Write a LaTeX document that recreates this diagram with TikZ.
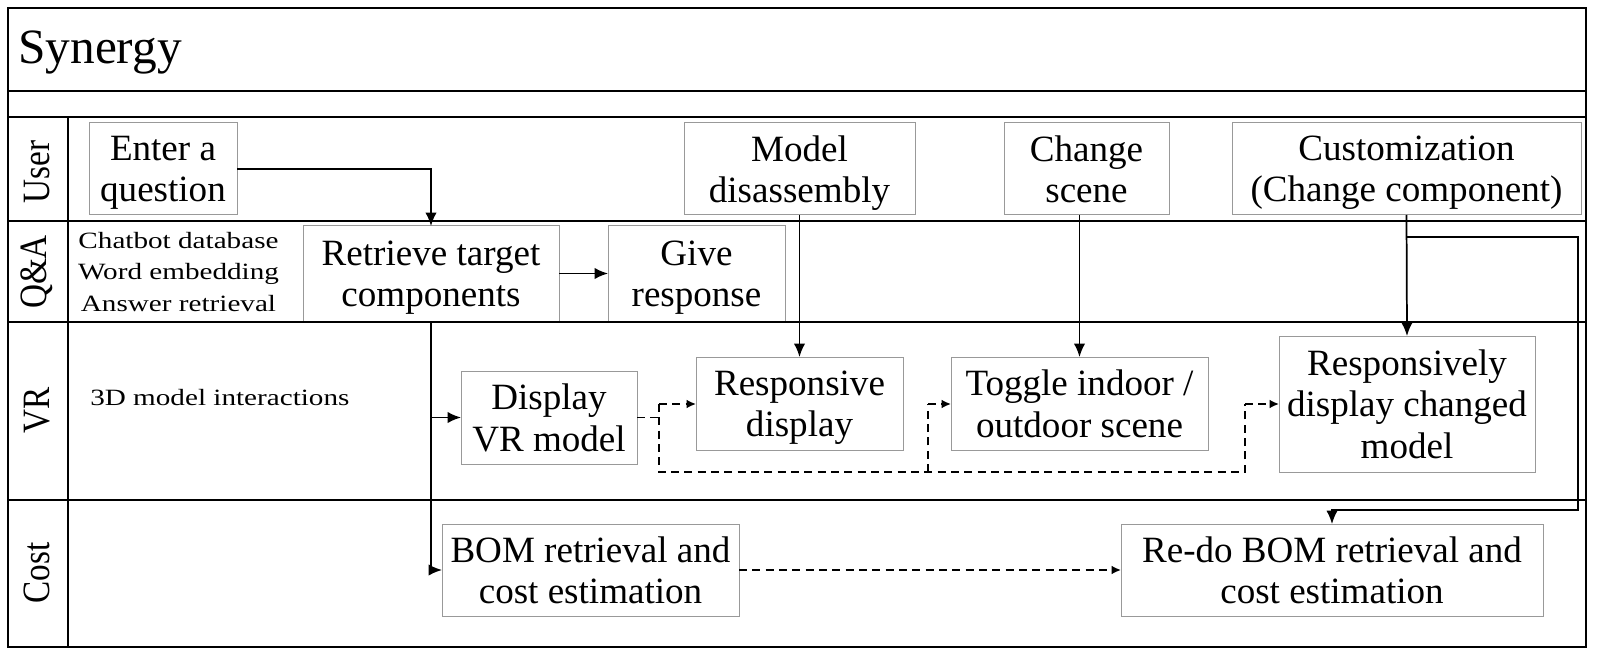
\documentclass[tikz,border=0pt]{standalone}
\usepackage{fontspec}
\setmainfont{Liberation Serif}
\newfontfamily\widefont{Liberation Serif}[FakeStretch=1.25]
\newfontfamily\narrowfont{Liberation Serif}[FakeStretch=0.86]
\usetikzlibrary{arrows.meta}
\newcommand\boxfont{\fontsize{27.8}{31}\selectfont}
\newcommand\lanefont{\narrowfont\fontsize{29}{32}\selectfont}
\newcommand\titlefont{\fontsize{37}{40}\selectfont}
\newcommand\notefont{\widefont\fontsize{17.5}{23.5}\selectfont}
\begin{document}
\begin{tikzpicture}[x=0.75pt,y=-0.75pt,
  lane/.style={draw=black,line width=1.5pt},
  box/.style={draw=black!40,line width=0.75pt,inner sep=0pt,outer sep=0pt,align=center,font=\boxfont,text depth=0pt},
  conn/.style={line width=1.3pt,-{Latex[length=10pt,width=8.5pt]}},
  dsh/.style={line width=1.3pt,dash pattern=on 6pt off 4pt},
  dsharr/.style={dsh,-{Latex[length=7pt,width=6.5pt]}}]
\useasboundingbox (0,0) rectangle (1600,656);
% boxes
\node[box,minimum width=148*0.75pt,minimum height=92*0.75pt] (enter) at (163,169) {Enter a\\question};
\node[box,minimum width=231*0.75pt,minimum height=92*0.75pt] (model) at (799.5,169) {Model\\disassembly};
\node[box,minimum width=165*0.75pt,minimum height=92*0.75pt] (scene) at (1086.5,169) {Change\\scene};
\node[box,minimum width=349*0.75pt,minimum height=92*0.75pt] (custom) at (1406.5,169) {Customization\\(Change component)};
\node[box,minimum width=256*0.75pt,minimum height=95*0.75pt] (retrieve) at (431,273.5) {Retrieve target\\components};
\node[box,minimum width=177*0.75pt,minimum height=95*0.75pt] (give) at (696.5,273.5) {Give\\response};
\node[box,minimum width=176*0.75pt,minimum height=93*0.75pt] (display) at (549,417.5) {Display\\VR model};
\node[box,minimum width=207*0.75pt,minimum height=93*0.75pt] (resp) at (799.5,403.5) {Responsive\\display};
\node[box,minimum width=257*0.75pt,minimum height=93*0.75pt] (toggle) at (1079.5,403.5) {Toggle indoor /\\outdoor scene};
\node[box,minimum width=256*0.75pt,minimum height=136*0.75pt] (respch) at (1407,404) {Responsively\\display changed\\model};
\node[box,minimum width=297*0.75pt,minimum height=92*0.75pt] (bom) at (590.5,570) {BOM retrieval and\\cost estimation};
\node[box,minimum width=422*0.75pt,minimum height=92*0.75pt] (redo) at (1332,570) {Re-do BOM retrieval and\\cost estimation};
% frame and lanes
\draw[lane] (8,8) rectangle (1586,647);
\draw[lane] (8,91) -- (1586,91);
\draw[lane] (8,117) -- (1586,117);
\draw[lane] (8,221) -- (1586,221);
\draw[lane] (8,322) -- (1586,322);
\draw[lane] (8,500) -- (1586,500);
\draw[lane] (68,117) -- (68,647);
% texts
\node[anchor=base west,font=\titlefont,inner sep=0pt] (title) at (18,64) {Synergy};
\node[rotate=90,font=\lanefont,inner sep=0pt] (luser) at (37,172) {User};
\node[rotate=90,font=\lanefont,inner sep=0pt] (lqa) at (37,272) {Q\&A};
\node[rotate=90,font=\lanefont,inner sep=0pt] (lvr) at (37,410) {VR};
\node[rotate=90,font=\lanefont,inner sep=0pt] (lcost) at (37,573) {Cost};
\node[font=\notefont,align=center,inner sep=0pt] (notes) at (178.5,272) {Chatbot database\\Word embedding\\Answer retrieval};
\node[anchor=base west,font=\notefont,inner sep=0pt] (vrnote) at (90,405) {3D model interactions};
% connectors
\draw[conn] (enter.east) -| (retrieve.north);
\draw[conn] (retrieve.east) -- (give.west);
\draw[conn] (model.south) -- (resp.north);
\draw[conn] (toggle.north |- scene.south) -- (toggle.north);
\draw[conn] (custom.south) -- (respch.north);
\coordinate (k1) at (custom.south |- 0,237);
\coordinate (k2) at (1578,237);
\coordinate (k3) at (1578,510);
\draw[conn] (k1) -- (k2) -- (k3) -| (redo.north);
\draw[conn] (retrieve.south) |- (bom.west);
\draw[conn] (retrieve.south |- display.west) -- (display.west);
\coordinate (ja) at (659,404);
\coordinate (jb) at (659,472);
\coordinate (jd) at (928,404);
\coordinate (jc) at (928,472);
\coordinate (jf) at (1245,404);
\coordinate (je) at (1245,472);
\draw[dsh] (display.east) -- (display.east -| ja);
\draw[dsh] (ja) -- (jb) -- (je) -- (jf);
\draw[dsh] (jc) -- (jd);
\draw[dsharr] (ja) -- (resp.west |- ja);
\draw[dsharr] (jd) -- (toggle.west |- jd);
\draw[dsharr] (jf) -- (respch.west |- jf);
\draw[dsharr] (bom.east) -- (redo.west);
\end{tikzpicture}
\end{document}
